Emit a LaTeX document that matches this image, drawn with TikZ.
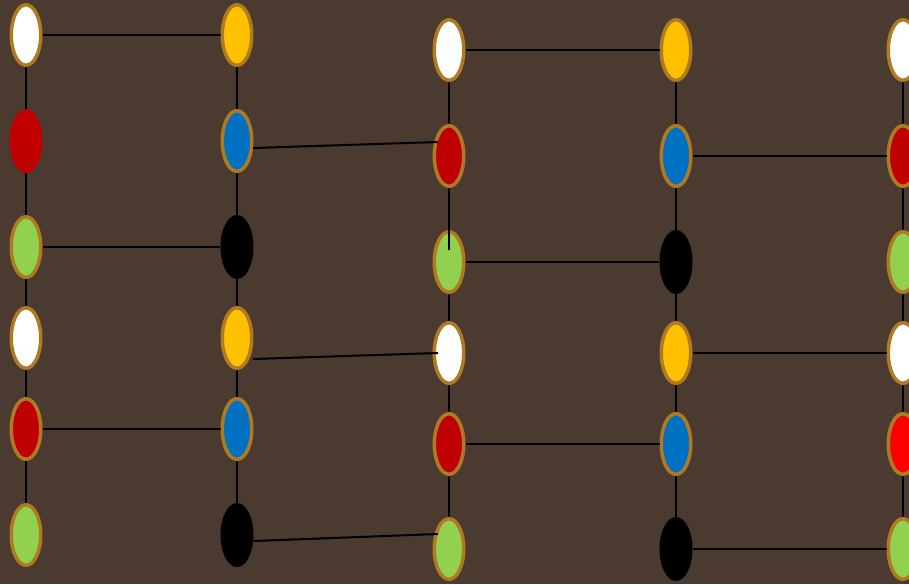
\documentclass[tikz,border=0pt]{standalone}
\usepackage{xcolor}
\usepackage{tikz}
\usetikzlibrary{shapes.geometric}

\definecolor{bg}{HTML}{4A3A30}
\definecolor{rim}{HTML}{B07A22}
\definecolor{beadyellow}{HTML}{FFC000}
\definecolor{beadblue}{HTML}{0070C0}
\definecolor{beadred}{HTML}{C00000}
\definecolor{beadgreen}{HTML}{92D050}

\begin{document}
\begin{tikzpicture}[x=1pt, y=-1pt,
bead/.style={ellipse, inner sep=0pt, minimum width=29.5pt, minimum height=60.5pt,
             draw=rim, line width=3.5pt},
whitebead/.style={bead, fill=white},
yellowbead/.style={bead, fill=beadyellow},
bluebead/.style={bead, fill=beadblue},
redbead/.style={bead, fill=beadred},
brightbead/.style={bead, fill=red},
greenbead/.style={bead, fill=beadgreen},
blackbead/.style={ellipse, inner sep=0pt, minimum width=33pt, minimum height=64pt, fill=black},
bareredbead/.style={blackbead, fill=beadred},
link/.style={line width=2pt}
]
\useasboundingbox (0,0) rectangle (909,584);
\fill[bg] (0,0) rectangle (909,584);

% first strand
\node[whitebead] (a1) at (26,35) {};
\node[bareredbead] (a2) at (26,141) {};
\node[greenbead] (a3) at (26,247) {};
\node[whitebead] (a4) at (26,338) {};
\node[redbead] (a5) at (26,429) {};
\node[greenbead] (a6) at (26,535) {};

\node[yellowbead] (b1) at (237,35) {};
\node[bluebead] (b2) at (237,141) {};
\node[blackbead] (b3) at (237,247) {};
\node[yellowbead] (b4) at (237,338) {};
\node[bluebead] (b5) at (237,429) {};
\node[blackbead] (b6) at (237,535) {};

% second strand
\node[whitebead] (c1) at (449,50) {};
\node[redbead] (c2) at (449,156) {};
\node[greenbead] (c3) at (449,262) {};
\node[whitebead] (c4) at (449,353) {};
\node[redbead] (c5) at (449,444) {};
\node[greenbead] (c6) at (449,549) {};

\node[yellowbead] (d1) at (676,50) {};
\node[bluebead] (d2) at (676,156) {};
\node[blackbead] (d3) at (676,262) {};
\node[yellowbead] (d4) at (676,353) {};
\node[bluebead] (d5) at (676,444) {};
\node[blackbead] (d6) at (676,549) {};

% third strand
\node[whitebead] (e1) at (903,50) {};
\node[redbead] (e2) at (903,156) {};
\node[greenbead] (e3) at (903,262) {};
\node[whitebead] (e4) at (903,353) {};
\node[brightbead] (e5) at (903,444) {};
\node[greenbead] (e6) at (903,549) {};

% backbones
\draw[link] (a1) -- (a2) -- (a3) -- (a4) -- (a5) -- (a6);
\draw[link] (b1) -- (b2) -- (b3) -- (b4) -- (b5) -- (b6);
\draw[link] (c1) -- (c2);
\draw[link] (c2) -- ([yshift=12pt]c3.center);
\draw[link] (c3) -- (c4) -- (c5) -- (c6);
\draw[link] (d1) -- (d2) -- (d3) -- (d4) -- (d5) -- (d6);
\draw[link] (e1) -- (e2) -- (e3) -- (e4) -- (e5) -- (e6);

% rungs
\draw[link] (a1) -- (b1);
\draw[link] (a3) -- (b3);
\draw[link] (a5) -- (b5);
\draw[link] ([xshift=16pt,yshift=-7pt]b2.center) -- ([xshift=-11pt,yshift=14pt]c2.center);
\draw[link] ([xshift=16pt,yshift=-21pt]b4.center) -- ([xshift=-11pt]c4.center);
\draw[link] ([xshift=17pt,yshift=-6pt]b6.center) -- ([xshift=-11pt,yshift=15pt]c6.center);
\draw[link] (c1) -- (d1);
\draw[link] (c3) -- (d3);
\draw[link] (c5) -- (d5);
\draw[link] (d2) -- (e2);
\draw[link] (d4) -- (e4);
\draw[link] (d6) -- (e6);
\end{tikzpicture}
\end{document}
